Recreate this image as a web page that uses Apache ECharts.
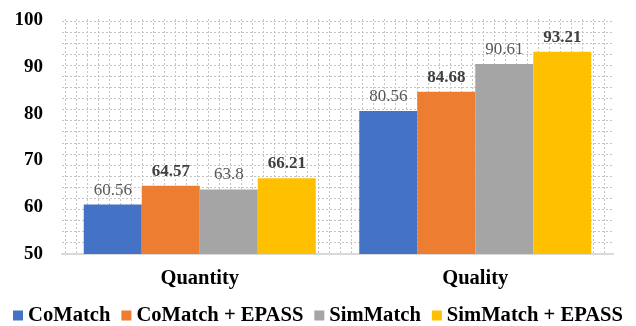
<!DOCTYPE html>
<html>
<head>
<meta charset="utf-8">
<script src="https://cdn.jsdelivr.net/npm/echarts@6/dist/echarts.min.js"></script>
<style>
  html, body { margin: 0; padding: 0; background: #fff; }
  #chart { width: 636px; height: 326px; }
</style>
</head>
<body>
<div id="chart"></div>
<script>
// Categories, series and values
const categories = ['Quantity', 'Quality'];
const seriesNames = ['CoMatch', 'CoMatch + EPASS', 'SimMatch', 'SimMatch + EPASS'];
const coMatch = [60.56, 80.56];
const coMatchEpass = [64.57, 84.68];
const simMatch = [63.8, 90.61];
const simMatchEpass = [66.21, 93.21];
const yTicks = [50, 60, 70, 80, 90, 100];

const seriesValues = [coMatch, coMatchEpass, simMatch, simMatchEpass];
const colors = ['#4472C4', '#ED7D31', '#A5A5A5', '#FFC000'];
const boldLabel = [false, true, false, true];
const serif = '"Liberation Serif", "Times New Roman", serif';

const chart = echarts.init(document.getElementById('chart'), null, { renderer: 'canvas' });

// Dotted background pattern of the plot area (independent of the value scale)
const dotted = { color: '#c4c4c4', width: 1, type: [2, 2] };
const hiddenParts = { axisLine: { show: false }, axisTick: { show: false }, axisLabel: { show: false } };

chart.setOption({
  animation: false,
  color: colors,
  textStyle: { fontFamily: serif },
  grid: [
    { left: 62, right: 23, top: 20, bottom: 72 },
    { left: 62, width: 551, top: 21, height: 221.4 },
    { left: 65, width: 539, top: 19, height: 235 }
  ],
  legend: {
    data: seriesNames,
    left: 'center',
    top: 300,
    icon: 'rect',
    itemWidth: 10,
    itemHeight: 10,
    itemGap: 11,
    textStyle: { fontFamily: serif, fontWeight: 'bold', fontSize: 20.6, color: '#000' }
  },
  xAxis: [
    {
      type: 'category',
      data: categories,
      gridIndex: 0,
      axisLine: { lineStyle: { color: '#d9d9d9', width: 2 } },
      axisTick: { show: false },
      axisLabel: { fontFamily: serif, fontWeight: 'bold', fontSize: 20.5, color: '#000', margin: 14 },
      splitLine: { show: false },
      z: 3
    },
    Object.assign({ type: 'value', gridIndex: 1, min: 0, max: 1, splitLine: { show: false } }, hiddenParts),
    Object.assign({ type: 'value', gridIndex: 2, min: 0, max: 49, interval: 1, splitLine: { show: true, lineStyle: dotted } }, hiddenParts)
  ],
  yAxis: [
    {
      type: 'value',
      gridIndex: 0,
      min: yTicks[0],
      max: yTicks[yTicks.length - 1],
      interval: 10,
      axisLine: { show: false },
      axisTick: { show: false },
      splitLine: { show: false },
      axisLabel: { fontFamily: serif, fontWeight: 'bold', fontSize: 19, color: '#000', margin: 19 }
    },
    Object.assign({ type: 'value', gridIndex: 1, min: 0, max: 20, interval: 1, splitLine: { show: true, lineStyle: dotted } }, hiddenParts),
    Object.assign({ type: 'value', gridIndex: 2, min: 0, max: 1, splitLine: { show: false } }, hiddenParts)
  ],
  series: seriesNames.map((name, i) => ({
    name: name,
    type: 'bar',
    xAxisIndex: 0,
    yAxisIndex: 0,
    data: seriesValues[i],
    barWidth: 58,
    barGap: '0%',
    z: 5,
    itemStyle: { color: colors[i] },
    label: {
      show: true,
      position: 'top',
      distance: 6,
      fontFamily: serif,
      fontSize: 17,
      fontWeight: boldLabel[i] ? 'bold' : 'normal',
      color: boldLabel[i] ? '#404040' : '#595959'
    }
  }))
});
</script>
</body>
</html>
